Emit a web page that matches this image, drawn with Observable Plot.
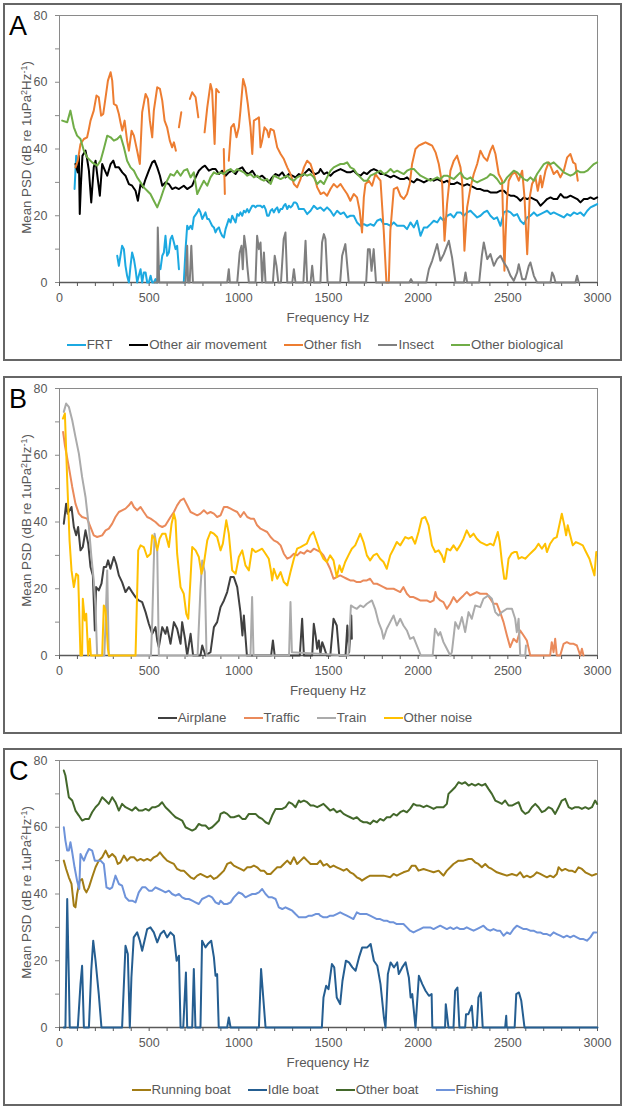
<!DOCTYPE html>
<html>
<head>
<meta charset="utf-8">
<script src="https://cdn.jsdelivr.net/npm/d3@7"></script>
<script src="https://cdn.jsdelivr.net/npm/@observablehq/plot@0.6"></script>
<style>
  body { margin: 0; background: #fff; font-family: "Liberation Sans", Arial, sans-serif; }
  .panel { position: absolute; left: 3px; width: 615px; height: 354px; border: 2px solid #666; background: #fff; }
  .panel svg { position: absolute; left: 0; top: 0; }
  .legend { position: absolute; left: 0; width: 615px; top: 332px; height: 16px; display: flex; justify-content: center; gap: 17px; font-size: 13.3px; line-height: 16px; color: #595959; padding-left: 5px; box-sizing: border-box; }
  .legend .item { display: flex; align-items: center; white-space: nowrap; }
  .legend .sw { display: inline-block; width: 19px; height: 2.5px; margin-right: 1px; }
</style>
</head>
<body>
<script>
// ---------- Panel A ----------
const FRT = [[84,28],[93,38],[102,34],null,
[322,8],[331,5],[349,11],[359,10],[368,5],[377,2],[387,0],[396,5],[405,9],[415,7],[424,4],[433,0],[442,2],[452,4],[461,0],[470,3],[480,3],[489,0],[498,0],[508,2],[517,0],[526,0],[535,1],[545,0],[554,5],[563,4],[573,8],[582,9],[591,14],[600,8],[610,9],[619,13],[628,14],[638,12],[647,10],[656,11],[666,4],null,
[693,0],[703,10],[712,17],[721,16],[731,17],[740,16],[749,19.5],[768,21],[777,22],[786,21],[796,19],[805,20],[814,21],[824,19],[833,19],[842,18],[851,17],[861,16.5],[870,15],[879,16],[889,16.5],[898,15],[907,14],[917,13.5],[926,16],[935,17.5],[944,19],[954,18],[963,20],[972,19],[982,18],[991,20.5],[1000,20],[1009,21],[1019,20],[1028,21.5],[1037,21],[1047,22],[1056,21],[1065,22],[1075,23],[1084,23],[1093,22.5],[1102,23],[1112,23],[1121,23],[1130,22.5],[1140,23],[1149,22],[1158,20],[1167,20],[1177,21.5],[1186,22],[1195,21],[1205,22],[1214,22.5],[1223,21],[1233,22],[1242,22],[1251,23],[1260,23.5],[1270,22],[1279,23],[1288,22.5],[1298,23],[1307,24],[1316,24],[1325,23.5],[1335,22],[1344,22],[1363,22],[1381,20.5],[1400,21.5],[1418,23],[1437,22],[1455,22.5],[1474,21.5],[1492,22.5],[1511,21.5],[1529,20],[1548,21.5],[1567,20.5],[1585,21],[1604,19.5],[1622,20],[1641,20],[1659,18],[1678,17],[1697,17.5],[1715,17],[1734,17.5],[1753,17],[1771,18.5],[1790,19],[1808,17.5],[1827,17.5],[1846,17],[1864,18],[1883,17],[1901,17],[1920,17],[1938,16],[1957,18],[1976,16.5],[1994,18.5],[2013,14],[2032,16.5],[2050,16.5],[2069,17.5],[2087,18.5],[2106,18],[2124,19.5],[2143,18.5],[2162,20],[2180,20.5],[2199,19.5],[2217,21],[2236,21],[2254,20],[2273,21],[2292,21.5],[2310,20.5],[2329,19.5],[2347,20],[2366,21],[2385,21.5],[2403,20],[2422,19],[2440,19.5],[2459,17],[2478,21],[2496,21.5],[2515,21],[2533,20],[2552,20.5],[2570,18.5],[2589,17.5],[2608,19.5],[2626,20],[2645,21],[2663,20],[2682,20.5],[2701,21],[2719,21.5],[2738,20.5],[2756,21],[2775,20.5],[2794,20],[2812,19.5],[2831,20.5],[2849,20],[2868,21],[2887,20.5],[2905,21],[2924,20],[2943,21.5],[2961,22.5],[2980,23],[2998,23.5]];

const otherAir = [[89,35.5],[102,33],[108,38],[113,20.5],[120,30],[128,38],[145,39.5],[154,37],[164,33.5],[177,24],[191,34.5],[201,36.5],[210,32.5],[225,26],[238,35.5],[250,34],[266,32],[285,35.5],[300,36.5],[312,34.5],[331,34.5],[350,33],[368,32],[387,29.5],[405,29],[424,27.5],[437,24.5],[452,29.5],[465,28.5],[480,31],[498,33.5],[517,36],[530,36.5],[545,34.5],[560,32],[573,29],[591,30],[610,29.5],[628,28],[647,28.5],[666,28],[693,29],[712,28],[740,29],[759,31.5],[777,33.5],[796,34.5],[811,35],[833,33.5],[851,34],[870,34],[889,32.5],[907,33.5],[926,32],[944,33],[963,33.5],[982,32.5],[1000,34],[1019,34.5],[1037,33],[1056,32.5],[1075,33.5],[1093,32],[1112,31.5],[1130,32],[1149,31],[1167,30],[1186,31.5],[1205,32.5],[1223,32],[1242,33],[1260,31.5],[1279,32.5],[1298,32],[1316,31.5],[1335,32.5],[1354,32],[1372,33],[1391,34],[1409,33],[1428,32.5],[1446,33],[1455,34],[1474,32.5],[1492,33],[1511,32],[1529,33],[1548,33.5],[1567,34],[1585,33.5],[1604,33],[1622,33],[1641,33.5],[1659,32.5],[1678,32],[1697,33],[1715,32.5],[1734,33.5],[1753,34],[1771,33.5],[1790,32.5],[1808,32.5],[1827,32],[1846,31.5],[1864,32],[1883,31.5],[1901,31],[1920,31],[1938,31.5],[1957,30.5],[1976,30],[1994,31],[2013,30.5],[2032,30],[2050,30.5],[2069,31],[2087,30.5],[2106,31],[2124,30.5],[2143,30],[2162,30.5],[2180,29.5],[2199,29.5],[2217,30],[2236,29.5],[2254,29],[2273,29.5],[2292,29],[2310,28.5],[2329,28],[2347,28],[2366,27.5],[2385,27.5],[2403,27],[2422,27],[2440,27],[2459,27.5],[2478,27.5],[2496,26.5],[2515,26],[2533,26],[2552,25.5],[2570,24.5],[2589,25.5],[2608,25],[2626,25.5],[2645,25],[2663,24.5],[2682,23],[2701,24],[2719,25],[2738,25.5],[2756,25],[2775,25],[2794,26.5],[2812,25.5],[2831,25.5],[2849,26],[2868,25.5],[2887,25],[2905,24],[2924,25],[2943,25],[2961,25.5],[2980,25],[2998,25.5]];

const otherFish = [[89,34.5],[102,36.5],[117,41.5],[136,43],[154,43.5],[164,46],[173,48.5],[191,51.5],[206,56],[219,55.5],[232,50],[244,50.5],[257,55.5],[270,60.5],[285,63],[294,60.5],[303,53.5],[318,53],[331,50.5],[340,48],[350,45.5],[363,48.5],[377,42.5],[387,39.5],[402,45.5],[415,44],[433,39.5],[448,35.5],[461,51],[480,56.5],[493,55],[504,48.5],[517,43.5],[526,51.5],[545,58.5],[560,58],[573,54.5],[586,48.5],[600,46.5],[615,42.5],[628,40.5],[638,42],[649,39.5],null,
[666,46.5],[679,51],null,
[727,55],[740,57],[759,55.5],[774,49.5],null,
[809,45],[824,52.5],[842,59.5],[851,57.5],[865,41.5],[874,58],[889,57],null,
[916,40],[922,26.5],null,
[944,36.5],[957,46.5],[972,47.5],[987,43.5],[1000,46.5],[1009,51.5],[1024,61],[1037,58.5],[1050,53.5],[1065,46.5],[1075,38.5],[1084,48.5],[1099,49],[1112,49.5],[1121,40.5],[1130,42.5],[1143,46.5],[1158,45.5],[1167,43.5],[1177,46],[1195,45.5],[1214,40.5],[1233,38.5],[1251,37],[1270,34.5],[1288,32.5],[1307,29.5],[1325,28.5],[1344,31],[1363,34.5],[1381,36.5],[1400,35.5],[1418,32.5],[1437,28.5],[1456,26.5],[1474,27],[1492,26],[1511,28],[1529,29.5],[1548,28.5],[1567,29.5],[1585,28],[1604,26.5],[1622,24.5],[1641,26.5],[1659,25.5],[1674,21.5],[1687,15],[1697,25.5],[1706,29.5],[1725,30.5],[1743,29],[1762,32.5],[1775,31.5],[1790,30.5],[1808,15.5],[1823,0],[1836,0],[1845,15.5],[1864,28],[1883,28.5],[1901,26],[1920,25],[1938,26.5],[1953,29.5],[1966,35.5],[1985,40],[2003,41],[2022,41.5],[2041,42],[2059,41.5],[2078,41],[2097,39],[2115,35.5],[2134,29.5],[2147,12.5],[2161,23.5],[2180,33.5],[2199,36.5],[2217,38],[2236,34.5],[2245,30.5],[2258,9.5],[2273,22.5],[2292,28.5],[2310,32.5],[2329,35.5],[2347,39.5],[2366,37.5],[2385,36.5],[2403,39.5],[2416,41],[2431,38.5],[2449,32.5],[2468,30.5],[2481,3.5],[2487,13.5],[2496,25],[2505,30.5],[2524,32.5],[2542,33],[2561,30.5],[2580,33.5],[2593,25.5],[2608,8.5],[2622,25.5],[2635,29.5],[2654,31.5],[2667,27.5],[2682,32],[2691,28.5],[2710,33.5],[2728,36],[2741,34.5],[2756,32.5],[2775,33.5],[2793,31.5],[2812,33.5],[2831,37.5],[2849,38.5],[2864,36],[2877,35.5],[2890,30.5]];

const insect = [[530,0],[545,0],[548,16.5],[556,0],[703,0],[712,11],[717,0],[726,0],[735,11],[744,0],[935,0],[944,4],[950,0],[991,0],[1005,9],[1015,11],[1022,4],[1030,14],[1040,10],[1047,5],[1056,0],[1093,0],[1102,14],[1112,10],[1121,12],[1130,0],[1140,9],[1149,0],[1190,0],[1200,8],[1210,5],[1220,0],[1235,0],[1250,13],[1260,15],[1270,0],[1298,0],[1307,4],[1316,0],[1360,0],[1372,12.5],[1381,0],[1400,0],[1409,5],[1418,0],[1455,0],[1464,12],[1474,14.5],[1483,13],[1495,0],[1565,0],[1576,8],[1594,11.5],[1613,0],[1710,0],[1720,10],[1730,10],[1740,3.5],[1752,10],[1765,0],[1950,0],[1960,1],[1970,0],[2045,0],[2060,4],[2078,6.5],[2092,9],[2106,11.5],[2124,6.5],[2143,8.5],[2171,12.5],[2189,7.5],[2208,0],[2255,0],[2264,3],[2273,0],[2340,0],[2355,8],[2366,12],[2385,7],[2403,8.5],[2422,5],[2440,7],[2459,8],[2478,6],[2496,4.5],[2515,2],[2533,0.5],[2552,3],[2561,5.5],[2580,1],[2598,1],[2617,5],[2626,6],[2645,2],[2663,0],[2738,0],[2747,3],[2756,2],[2766,0],[2877,0],[2886,2],[2895,0]];

const otherBio = [[15,48.5],[43,48],[61,51.5],[80,46.5],[98,44],[117,43],[136,39.5],[154,37.5],[182,36],[210,35],[229,36.5],[247,40],[266,44],[285,43.5],[303,42.5],[322,43],[340,44],[359,40.5],[377,36.5],[396,34.5],[415,33.5],[433,31.5],[452,30],[470,28.5],[489,27.5],[507,26.5],[526,24.5],[545,22.5],[563,25],[582,28],[600,30.5],[619,32.5],[638,32],[656,33.5],[675,32],[693,33.5],[712,34],[731,31.5],[749,33],[768,26.5],[786,28.5],[805,30.5],[824,29],[842,31.5],[861,33],[879,32.5],[898,33],[916,32.5],[935,33.5],[954,34],[972,33],[991,34],[1009,33.5],[1028,33],[1047,32],[1065,32.5],[1084,31.5],[1103,32],[1121,31],[1140,30.5],[1158,31],[1177,29.5],[1195,32],[1214,31.5],[1233,31],[1251,31.5],[1270,32],[1288,31],[1307,30.5],[1325,31.5],[1344,32],[1363,32.5],[1381,32],[1400,32.5],[1418,31.5],[1437,29.5],[1455,30.5],[1474,29.5],[1492,31.5],[1511,33.5],[1529,34.5],[1548,35],[1567,35.5],[1585,35.5],[1604,36],[1622,34.5],[1641,34],[1659,32.5],[1678,31.5],[1697,30.5],[1715,30.5],[1734,32],[1753,32.5],[1771,33],[1790,33.5],[1808,32.5],[1827,33],[1846,34],[1864,33],[1883,33.5],[1901,33],[1920,32.5],[1938,33.5],[1957,34],[1976,34],[1994,33],[2013,32],[2032,31.5],[2050,31],[2069,30.5],[2087,31],[2106,31.5],[2124,31],[2143,32],[2162,32],[2180,31.5],[2199,31],[2217,32],[2236,33],[2254,31.5],[2273,31],[2292,31.5],[2310,30.5],[2329,30],[2347,30.5],[2366,31],[2385,31.5],[2403,32.5],[2422,32],[2440,31],[2459,29.5],[2478,30],[2496,31.5],[2515,32.5],[2533,33.5],[2552,33],[2570,32],[2589,31],[2608,30.5],[2626,31.5],[2645,30.5],[2663,32.5],[2682,34],[2701,35.5],[2719,36],[2738,35.5],[2756,36],[2775,35],[2794,34],[2812,33],[2831,32.5],[2849,32],[2868,32.5],[2887,33.5],[2905,33],[2924,33],[2943,33.5],[2961,34.5],[2980,35.5],[2998,36]];

// ---------- Panel B ----------
const airplane = [[24,39.5],[37,45.5],[45,42.5],[67,44.5],[80,38.5],[93,36],[104,38.5],[117,31.5],[130,32.5],[145,37.5],[160,33.5],[173,26.5],[186,24],[197,7.5],[204,20.5],[219,19.5],[234,21.5],[247,26.5],[260,26.5],[271,28.5],[284,26],[303,29.5],[316,27.5],[331,24],[349,22],[368,19],[387,20.5],[405,19],[424,17.5],[442,16.5],[461,16],[480,13],[498,9.5],[517,6.5],[535,8.5],[545,4.5],[554,2.5],[573,8.5],[591,6.5],[600,8.5],[619,3.5],[638,10],[656,8],[675,3.5],[684,10],[700,5],[712,0],[731,6.5],[745,0],[786,0],[796,3],[814,0],[842,1],[861,8.5],[879,10],[898,14.5],[917,16.5],[935,19],[954,23.5],[972,23.5],[991,20.5],[1009,13],[1020,6],[1028,12],[1045,0],[1180,0],[1190,4.5],[1200,0],[1340,0],[1353,11],[1363,0],[1409,0],[1418,9.5],[1428,6],[1437,2],[1446,4.5],[1455,0.5],[1465,4],[1475,2.5],[1490,0],[1510,0],[1528,11],[1546,9],[1560,0],[1595,0],[1605,9],[1615,1],[1627,12],[1630,5]];

const traffic = [[20,67],[30,63],[52,56.5],[71,50.5],[89,45.5],[108,42.5],[126,41.5],[154,41],[173,38.5],[191,36],[210,35.5],[238,36],[257,37.5],[275,38],[294,39.5],[312,41.5],[331,43],[349,43.5],[368,44],[387,45],[401,46],[415,44.5],[433,43.5],[452,44.5],[470,43],[489,41.5],[508,41],[535,40],[554,39],[573,38.5],[591,39],[619,41.5],[638,43],[656,45],[675,46.5],[693,47],[712,45],[731,43],[749,42.5],[768,42],[786,42.5],[805,43.5],[824,42.5],[842,43],[861,42.5],[879,41.5],[898,42],[917,44.5],[935,44.5],[954,44],[972,43.5],[991,43],[1009,41.5],[1028,43],[1047,41.5],[1065,41],[1084,41],[1102,39],[1121,38],[1140,37.5],[1158,37],[1177,35.5],[1195,34.5],[1214,34],[1233,33],[1251,30.5],[1270,29],[1288,29.5],[1307,30.5],[1325,30],[1344,31],[1363,30.5],[1381,31.5],[1400,31],[1418,32],[1437,31.5],[1456,31],[1472,30],[1491,28],[1509,26],[1528,23],[1546,23.5],[1565,24],[1584,23.5],[1602,23],[1621,22.5],[1639,22.5],[1658,22],[1677,22],[1695,22.5],[1714,22.5],[1732,23],[1751,21.5],[1770,21.5],[1788,21],[1807,20.5],[1825,20],[1844,20],[1863,20],[1881,19.5],[1900,19],[1918,20.5],[1937,18.5],[1955,17.5],[1974,17.5],[1993,17],[2011,16.5],[2030,16.5],[2048,16.5],[2067,16],[2086,16.5],[2096,19],[2104,17.5],[2123,16.5],[2141,16],[2160,14],[2179,15.5],[2197,17.5],[2216,16],[2234,17],[2253,18],[2271,19],[2290,18],[2309,18.5],[2327,19],[2346,18.5],[2364,18.5],[2383,18.5],[2402,17],[2420,15.5],[2439,15.5],[2457,13],[2476,10],[2495,6],[2513,2.5],[2532,5],[2550,4],[2569,7.5],[2588,6],[2606,4.5],[2625,0],[2736,0],[2745,4],[2755,1],[2764,5],[2773,0],[2792,0],[2811,3.5],[2829,4],[2848,3.5],[2867,3.5],[2885,3],[2904,0],[2913,2],[2922,0]];

const train = [[24,73],[37,75.5],[52,74.5],[71,70.5],[89,65.5],[108,60.5],[126,53.5],[145,47.5],[164,38.5],[178,29.5],[191,22.5],[201,14.5],[210,0],[250,0],[257,10],[266,25.5],[275,0],[510,0],[517,10],[530,36.5],[545,31.5],[554,0],[770,0],[786,20],[796,28.5],[810,25],[820,0],[1065,0],[1074,17.5],[1082,0],[1280,0],[1288,16],[1296,1],[1611,0],[1625,15],[1639,14.5],[1658,14],[1677,15],[1695,14.5],[1714,15.5],[1742,16.5],[1760,14],[1779,10],[1797,7.5],[1807,5],[1825,8],[1844,10],[1863,12],[1881,9],[1900,11],[1918,9],[1937,7.5],[1955,5],[1974,5.5],[2015,0],[2081,0],[2094,8],[2113,6],[2123,7],[2141,4],[2160,2],[2179,0],[2188,1],[2207,10],[2225,8],[2244,11.5],[2262,7],[2281,13],[2299,11],[2318,15],[2346,14.5],[2364,17],[2392,18],[2411,17],[2430,13],[2448,12],[2467,13],[2495,14],[2523,14],[2541,11],[2550,7],[2560,11],[2569,0],[2597,0],[2601,3]];

const otherNoise = [[19,71],[30,72.5],[43,52.5],[56,34.5],[67,25.5],[80,20.5],[93,24.5],[104,24],[117,0],[126,0],[130,17],[141,10.5],[149,12.5],[160,0],[169,5],[175,0],[238,0],[247,15],[257,13.5],[270,2],[276,0],[424,0],[439,31.5],[452,33],[470,32.5],[489,29.5],[508,30.5],[517,36],[531,35],[545,31.5],[558,35],[573,36.5],[591,36.5],[610,32.5],[625,39.5],[638,42.5],[647,40.5],[656,30.5],[675,20.5],[693,18.5],[707,12.5],[718,11],[731,23.5],[740,32.5],[759,31.5],[777,29.5],[792,24.5],[805,27.5],[824,34.5],[842,37],[861,36.5],[879,35.5],[898,31.5],[911,33.5],[930,40.5],[944,36.5],[963,25.5],[982,24.5],[1000,29.5],[1019,31.5],[1037,27],[1056,25.5],[1074,32],[1093,31],[1112,31.5],[1130,32],[1149,30.5],[1167,29],[1177,26],[1186,22.5],[1195,26],[1214,23],[1233,25],[1251,22],[1270,21],[1288,25],[1307,29],[1325,32],[1344,32.5],[1361,33],[1379,33.5],[1398,36],[1416,37],[1435,34],[1454,31],[1472,29],[1491,28],[1509,30],[1528,28.5],[1537,26],[1546,23.5],[1561,27],[1574,25],[1593,28],[1611,30],[1630,32],[1649,33],[1677,36.5],[1695,34],[1714,30],[1732,28.5],[1751,30],[1770,30.5],[1788,29],[1807,28],[1825,26],[1844,30],[1863,32],[1881,34],[1900,33],[1928,35.5],[1946,35],[1965,35.5],[1983,33.5],[2002,37],[2020,41],[2039,41.5],[2058,39],[2077,33],[2095,31],[2114,31.5],[2132,30],[2145,28],[2160,32],[2179,31.5],[2197,33],[2216,31.5],[2234,33],[2253,35],[2271,37.5],[2290,35.5],[2309,36.5],[2327,35],[2346,34],[2364,33.5],[2383,33],[2402,33.5],[2420,33],[2444,37],[2455,34],[2467,28],[2480,23],[2491,23],[2504,29],[2520,30.5],[2535,31],[2550,31],[2560,29],[2578,29.5],[2597,29],[2615,30],[2634,31],[2653,32],[2671,33.5],[2690,32],[2708,33.5],[2718,31],[2736,33.5],[2755,35],[2773,35.5],[2801,42.5],[2815,39],[2825,36],[2834,39],[2843,37],[2862,33],[2880,34],[2899,33.5],[2918,33],[2936,31],[2955,29],[2983,24],[2993,31]];

// ---------- Panel C ----------
const runningBoat = [[24,50],[37,47.5],[52,45],[67,43],[80,36.5],[89,36],[98,40],[113,44],[126,44.5],[139,41.5],[150,40.5],[164,42],[182,45],[201,48],[219,50],[238,51],[257,53],[275,51],[294,52],[312,51],[325,49],[340,49.5],[359,51.5],[377,50],[396,51],[415,51],[433,50],[452,50.5],[470,50],[489,50.5],[508,50],[526,51],[545,51.5],[560,52.5],[582,51],[600,50],[619,49.5],[638,49],[656,47.5],[675,47],[693,47],[712,46],[731,45],[749,44.5],[768,45.5],[786,46],[805,45.5],[824,45],[842,45.5],[861,44.5],[879,45],[898,46],[917,47],[935,49],[954,49.5],[972,48.5],[991,48],[1009,47.5],[1028,47],[1047,48],[1065,48],[1084,48.5],[1102,48],[1121,47],[1140,47],[1158,46],[1177,46],[1195,47],[1214,48],[1233,48],[1251,49],[1270,50],[1288,49],[1307,51],[1325,49],[1344,50],[1363,51],[1381,50],[1400,49],[1418,49],[1437,49],[1454,50],[1472,48.5],[1491,49],[1509,48],[1528,48.5],[1546,48],[1565,47.5],[1584,47],[1602,47.5],[1621,46.5],[1639,46],[1658,45],[1677,44.5],[1686,44],[1714,45],[1732,45.5],[1770,45.5],[1807,45.5],[1844,45],[1863,46],[1881,45.5],[1900,46],[1918,46.5],[1946,47],[1965,48.5],[1984,48.5],[2002,47],[2030,47.5],[2058,47],[2086,46.5],[2114,47],[2132,46],[2141,45.5],[2160,47],[2179,48],[2197,49],[2225,50],[2253,50],[2281,50.5],[2299,50.5],[2318,49.5],[2336,49],[2355,48],[2374,49],[2392,48],[2411,47.5],[2439,46.5],[2467,46],[2495,45.5],[2523,46],[2550,45.5],[2569,46.5],[2588,45],[2606,45.5],[2625,45],[2643,45.5],[2662,46.5],[2681,46],[2699,45.5],[2718,45],[2736,45.5],[2755,45],[2773,46],[2783,48],[2801,47],[2820,47.5],[2839,47],[2857,47],[2876,46.5],[2894,48],[2913,47.5],[2932,46.5],[2950,46],[2969,45.5],[2993,46]];

const idleBoat = [[24,0],[33,0],[43,38.5],[52,15],[57,0],[102,0],[117,13],[126,18.5],[136,0],[164,0],[177,17],[188,26],[201,20],[219,10],[234,0],[349,0],[368,24.5],[381,22],[392,0],[401,15],[414,27],[433,28.5],[448,26],[461,23],[474,26],[489,29.5],[507,30],[526,28.5],[545,25.5],[563,28],[582,29],[600,27],[619,28.5],[638,27.5],[653,20],[666,21.5],[675,0],[690,0],[705,16.5],[712,0],[740,0],[749,17.5],[758,0],[786,0],[795,26],[814,24],[827,25],[846,26],[861,21],[870,15.5],[879,16],[888,0],[935,0],[944,3],[954,0],[1112,0],[1124,17.5],[1149,0],[1463,0],[1472,9],[1487,12.5],[1500,11.5],[1519,19],[1532,18],[1546,9],[1565,7],[1578,14],[1597,20],[1614,19.5],[1633,18],[1651,17],[1670,21],[1688,24],[1716,24],[1735,25],[1753,20],[1772,18.5],[1790,13],[1809,3],[1818,0],[1831,16],[1846,19.5],[1865,18],[1883,19.5],[1892,16],[1911,18],[1930,19.5],[1948,15],[1958,9],[1967,10],[1985,0],[2004,15.5],[2023,13],[2041,11],[2060,9.5],[2075,10],[2079,0],[2150,0],[2154,7],[2169,0],[2197,0],[2206,11],[2219,12],[2230,0],[2262,0],[2267,4],[2280,4],[2299,6.5],[2308,0],[2327,0],[2336,9],[2349,10.5],[2360,0],[2485,0],[2491,3.5],[2494,0],[2538,0],[2547,10],[2562,10.5],[2575,8],[2593,0],[3000,0]];

const otherBoat = [[24,77],[33,75.5],[52,69],[71,68],[89,65],[108,63.5],[126,62],[145,62.5],[164,62.5],[182,64.5],[201,66],[219,67],[238,69],[257,68],[275,67],[294,69],[312,67.5],[331,65],[349,67],[368,66],[387,65.5],[405,65],[424,66],[442,65],[461,65],[480,65.5],[498,65],[517,66],[535,66],[554,66.5],[572,67.5],[591,66],[610,65],[628,64],[647,63],[666,62.5],[684,62],[703,60],[721,59.5],[740,59],[758,59.5],[777,61],[795,60.5],[814,60.5],[833,59.5],[851,60],[870,61],[889,62],[898,64],[917,64.5],[935,64],[954,63],[972,63],[1000,63.5],[1019,62.5],[1037,62.5],[1056,64],[1075,64],[1093,64],[1112,63],[1130,62.5],[1149,61.5],[1167,61],[1186,63.5],[1205,65.5],[1223,65.5],[1242,65.5],[1260,66],[1279,67.5],[1298,67],[1316,66],[1335,68],[1344,67.5],[1363,68],[1381,67.5],[1400,66.5],[1418,66.5],[1437,66],[1454,66.5],[1472,67],[1491,66],[1509,65],[1528,65.5],[1546,64.5],[1565,65],[1584,64],[1602,63.5],[1621,63],[1639,62.5],[1658,63],[1677,62],[1695,61.5],[1714,61.5],[1732,61],[1751,62],[1770,61.5],[1788,62.5],[1807,62],[1825,63],[1844,63],[1863,64],[1881,63.5],[1900,64.5],[1918,65],[1937,64.5],[1955,65.5],[1974,67],[1993,66.5],[2011,66.5],[2030,66],[2048,66.5],[2067,66],[2086,65.5],[2104,66],[2123,66],[2141,66],[2160,67],[2169,70],[2188,71],[2206,72],[2225,73.5],[2244,73],[2262,73.5],[2281,72.5],[2299,73],[2318,72.5],[2336,73],[2355,72.5],[2374,73],[2392,71.5],[2411,70],[2430,68],[2448,67.5],[2467,67],[2485,68],[2504,66.5],[2523,66.5],[2541,67],[2560,67.5],[2578,65],[2597,64],[2615,64.5],[2634,66],[2653,67],[2671,66],[2690,64.5],[2708,65],[2727,66],[2746,65.5],[2764,64],[2783,66],[2801,68],[2820,68.5],[2839,66],[2857,65.5],[2876,66],[2894,66],[2913,65.5],[2932,66],[2950,65.5],[2969,66],[2987,68],[2998,67]];

const fishing = [[24,60],[33,56],[43,53],[52,53],[61,55.5],[71,52.5],[84,48],[98,44],[110,41.5],[117,52],[126,51],[136,50],[150,52],[164,53.5],[182,53],[197,50],[210,50],[229,50],[247,49],[262,42],[281,41.5],[294,42],[312,45.5],[331,43],[349,42.5],[368,39],[387,38],[405,38],[424,37.5],[442,40.5],[461,42],[480,42],[498,41],[517,41],[535,42],[554,41.5],[573,41],[591,40.5],[610,41],[628,40],[647,39.5],[666,40],[684,39],[703,38.5],[721,38.5],[740,38],[758,37.5],[777,37],[795,38.5],[814,39],[833,39.5],[851,39],[870,37.5],[889,37],[898,38],[917,37],[935,37],[954,37.5],[972,39],[1000,40.5],[1019,40],[1037,39],[1056,39.5],[1075,40],[1093,40],[1112,40.5],[1130,41.5],[1149,40],[1167,39],[1186,39],[1205,38.5],[1223,36],[1242,35.5],[1260,36],[1279,35.5],[1298,35],[1316,34],[1335,33],[1353,33],[1372,33],[1391,33.5],[1409,33.5],[1428,34],[1446,34],[1454,33.5],[1472,33],[1491,33],[1509,33.5],[1528,33.5],[1546,34],[1565,34.5],[1584,34],[1602,33.5],[1621,33],[1639,32.5],[1658,34.5],[1677,34],[1695,34],[1714,34],[1732,33.5],[1751,33],[1770,32.5],[1788,32.5],[1807,32],[1825,32],[1844,31.5],[1863,31.5],[1881,31],[1900,31],[1918,31],[1937,30],[1955,29],[1974,28.5],[1993,29],[2011,29.5],[2030,30],[2048,30],[2067,30],[2086,29.5],[2104,30],[2123,30.5],[2141,30],[2160,29.5],[2179,30],[2197,29.5],[2216,30],[2234,29.5],[2253,29.5],[2271,30],[2290,29.5],[2309,29],[2327,29.5],[2346,30],[2364,30.5],[2383,29.5],[2402,29],[2420,29.5],[2439,29],[2457,29],[2476,27.5],[2495,28.5],[2513,28],[2532,29.5],[2550,30.5],[2569,30],[2588,29.5],[2606,29.5],[2625,29],[2643,29],[2662,28.5],[2681,28.5],[2699,28],[2718,28],[2736,27.5],[2755,28.5],[2773,28],[2792,27.5],[2811,27],[2829,27.5],[2848,27],[2867,27.5],[2885,27],[2904,26.5],[2922,26.5],[2941,26],[2960,27],[2978,28.5],[2993,28.5]];

// ---------- labels ----------
const yTicks = [0, 20, 40, 60, 80];
const xTicks = [0, 500, 1000, 1500, 2000, 2500, 3000];

const panels = [
  { letter: "A", top: 3, xTitle: "Frequency Hz", series: [
    { name: "FRT", data: FRT, color: "#1CA9E1" },
    { name: "Other air movement", data: otherAir, color: "#000000" },
    { name: "Other fish", data: otherFish, color: "#ED7D31" },
    { name: "Insect", data: insect, color: "#7F7F7F" },
    { name: "Other biological", data: otherBio, color: "#70AD47" } ] },
  { letter: "B", top: 376, xTitle: "Frequeny Hz", series: [
    { name: "Airplane", data: airplane, color: "#404040" },
    { name: "Traffic", data: traffic, color: "#EA8A5B" },
    { name: "Train", data: train, color: "#ABABAB" },
    { name: "Other noise", data: otherNoise, color: "#FFC000" } ] },
  { letter: "C", top: 748, xTitle: "Frequency Hz", series: [
    { name: "Running boat", data: runningBoat, color: "#A27C15" },
    { name: "Idle boat", data: idleBoat, color: "#255E91" },
    { name: "Other boat", data: otherBoat, color: "#43682B" },
    { name: "Fishing", data: fishing, color: "#6E93DA" } ] }
];

function rows(pairs) {
  return pairs.map(p => p ? { x: p[0], y: p[1] } : { x: NaN, y: NaN });
}

const FONT = "Liberation Sans, Arial, sans-serif";
const W = 615, H = 354, ML = 54, MR = 23, MT = 10, PH = 267;

for (const p of panels) {
  const div = document.createElement("div");
  div.className = "panel";
  div.style.top = p.top + "px";
  document.body.appendChild(div);

  const marks = [
    Plot.frame({ stroke: "#8a8a8a", strokeWidth: 1 }),
    Plot.axisY(d3.range(0, 81, 10), { tickSize: 4, tickFormat: () => "", stroke: "#8a8a8a", label: null }),
    Plot.axisY(yTicks, { tickSize: 0, tickPadding: 12, fill: "#595959", fontSize: 12.5, label: null, tickFormat: d3.format("d") }),
    Plot.axisX(d3.range(0, 3001, 100), { tickSize: 4, tickFormat: () => "", stroke: "#595959", label: null }),
    Plot.axisX(xTicks, { tickSize: 0, tickPadding: 11, fill: "#595959", fontSize: 12.5, label: null, tickFormat: d3.format("d") }),
    Plot.ruleY([0], { stroke: "#595959", strokeWidth: 1.3 }),
    ...p.series.map(s => Plot.line(rows(s.data), { x: "x", y: "y", stroke: s.color, strokeWidth: 2, strokeLinejoin: "round" }))
  ];

  const svg = Plot.plot({
    width: W, height: H,
    marginTop: MT, marginBottom: H - MT - PH, marginLeft: ML, marginRight: MR,
    x: { domain: [0, 3000], label: null },
    y: { domain: [0, 80], label: null },
    style: { fontFamily: FONT, background: "transparent", overflow: "visible" },
    marks
  });
  div.appendChild(svg);

  const s = d3.select(svg);
  s.append("text").attr("x", 4).attr("y", 30).attr("text-anchor", "start")
    .attr("font-size", 27).attr("font-family", FONT).attr("fill", "#000").text(p.letter);

  const yl = s.append("text")
    .attr("transform", `translate(21.5,${MT + PH / 2 - 1}) rotate(-90)`)
    .attr("text-anchor", "middle").attr("dy", "0.35em")
    .attr("font-size", 13.3).attr("font-family", FONT).attr("fill", "#595959");
  yl.append("tspan").text("Mean PSD (dB re 1uPa");
  yl.append("tspan").attr("dy", -4.5).attr("font-size", 9).text("2");
  yl.append("tspan").attr("dy", 4.5).text("Hz");
  yl.append("tspan").attr("dy", -4.5).attr("font-size", 9).text("-1");
  yl.append("tspan").attr("dy", 4.5).text(")");

  s.append("text")
    .attr("x", ML + (W - ML - MR) / 2).attr("y", MT + PH + 35).attr("dy", "0.35em")
    .attr("text-anchor", "middle").attr("font-size", 13.3).attr("font-family", FONT).attr("fill", "#595959")
    .text(p.xTitle);

  const leg = document.createElement("div");
  leg.className = "legend";
  for (const sr of p.series) {
    const it = document.createElement("span");
    it.className = "item";
    const sw = document.createElement("span");
    sw.className = "sw";
    sw.style.background = sr.color;
    it.appendChild(sw);
    it.appendChild(document.createTextNode(sr.name));
    leg.appendChild(it);
  }
  div.appendChild(leg);
}
</script>
</body>
</html>
